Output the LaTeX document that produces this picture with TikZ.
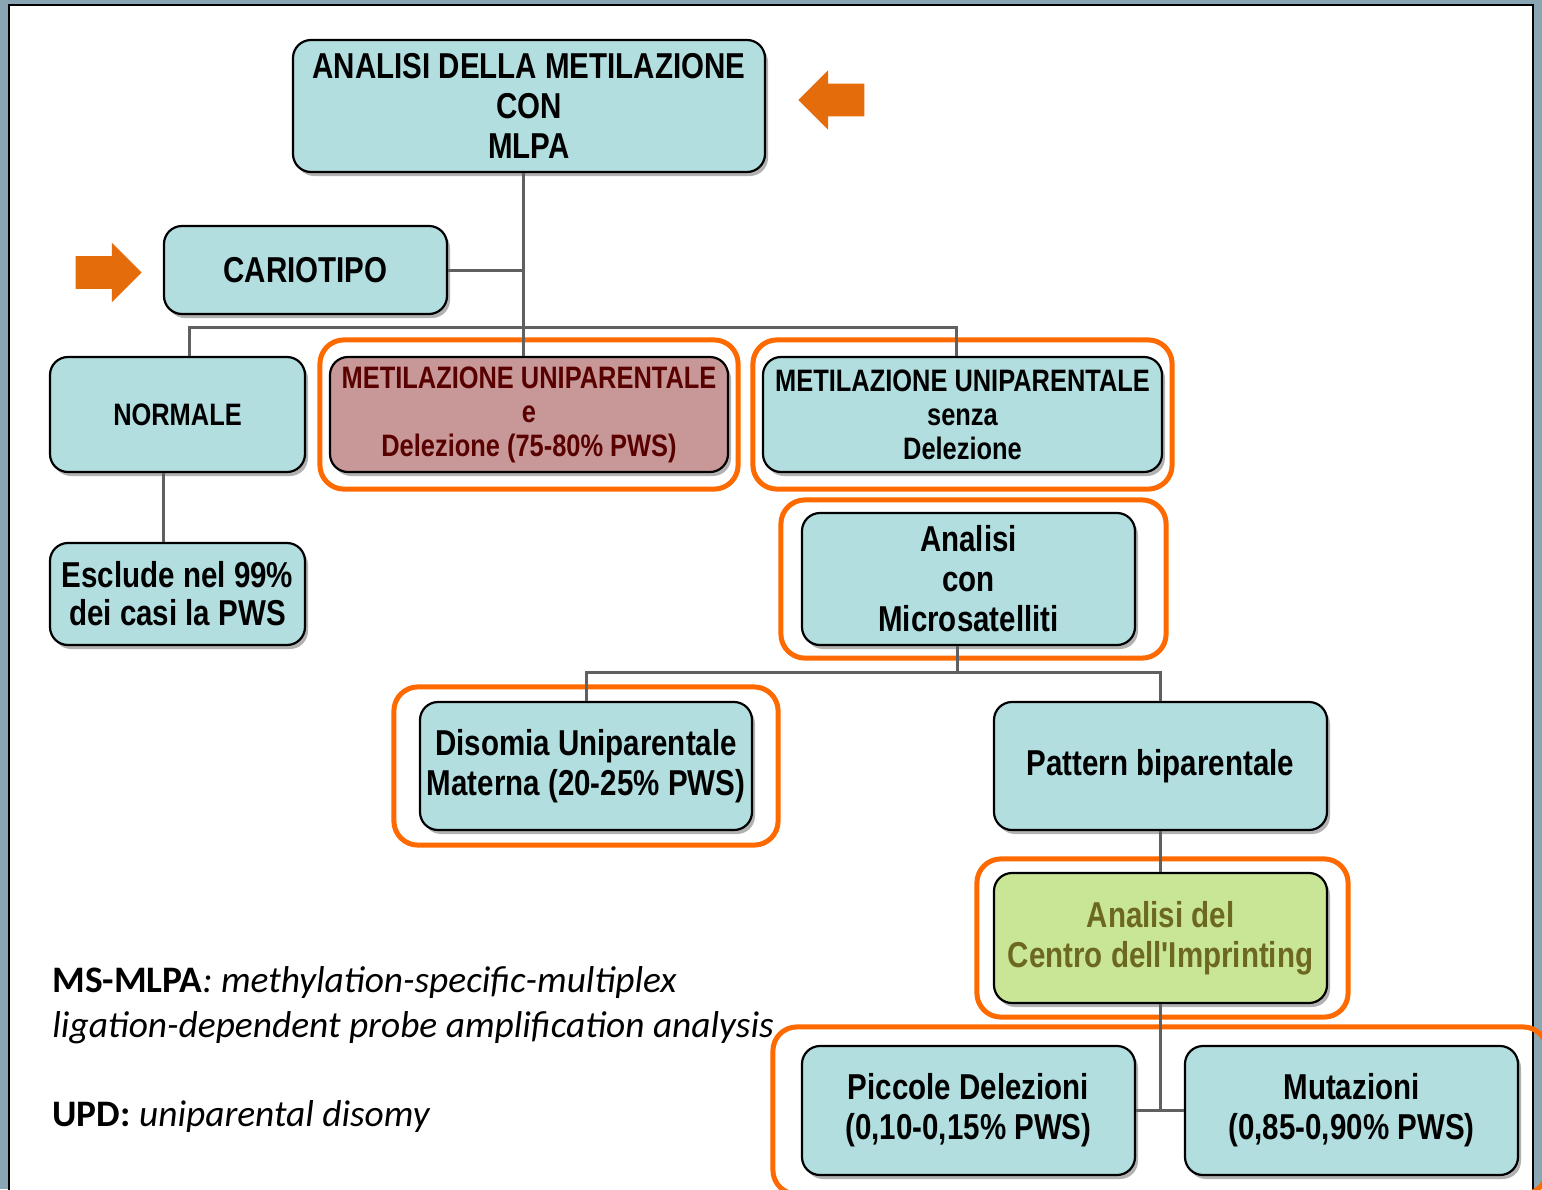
\documentclass[tikz,border=0pt]{standalone}
\usepackage{fontspec}
\usetikzlibrary{positioning, shapes.arrows, shadows, fit, calc}
\newfontfamily\boxfont[FakeStretch=0.82]{Liberation Sans Bold}
\newfontfamily\legfont{Carlito}
\definecolor{boxteal}{HTML}{B2DEE0}
\definecolor{boxrose}{HTML}{C89898}
\definecolor{boxlime}{HTML}{C9E697}
\definecolor{hlorange}{HTML}{FF6A00}
\definecolor{markorange}{HTML}{E46C0A}
\definecolor{framegray}{HTML}{8AA5B4}
\definecolor{linkgray}{HTML}{606060}

\begin{document}
\begin{tikzpicture}[x=0.5pt, y=-0.5pt,
    box/.style={draw=black, line width=1.1pt, rounded corners=9pt, fill=boxteal, align=center, inner sep=0pt,
      drop shadow={shadow xshift=1.5pt, shadow yshift=-2pt, fill=black!30, opacity=1}},
    bigtxt/.style={font=\boxfont\fontsize{18}{20}\selectfont},
    smalltxt/.style={font=\boxfont\fontsize{15.5}{17}\selectfont},
    link/.style={draw=linkgray, line width=1.5pt},
    hl/.style={draw=hlorange, line width=2.5pt, rounded corners=12pt, inner sep=0pt},
    marker/.style={single arrow, fill=markorange, inner xsep=0pt, inner ysep=8pt, minimum height=33pt,
      single arrow head extend=6.75pt, single arrow tip angle=90},
    legtxt/.style={anchor=west, inner sep=0pt, font=\legfont\fontsize{18.7}{22}\selectfont}]
    \useasboundingbox (0,0) rectangle (1542,1189);
    \clip (0,0) rectangle (1542,1189);
    \fill[framegray] (0,0) rectangle (1542,1189);
    \filldraw[fill=white, draw=black, line width=1pt] (9,5) rectangle (1533,1220);

    \node[box, bigtxt, minimum width=236pt, minimum height=66pt] (top) at (529,106) {ANALISI DELLA METILAZIONE\\CON\\MLPA};
    \node[box, bigtxt, minimum width=141.5pt, minimum height=44pt] (cario) at (305.5,270) {CARIOTIPO};
    \node[box, smalltxt, minimum width=127.5pt, minimum height=57.5pt] (normale) at (177.5,414.5) {NORMALE};
    \node[box, smalltxt, fill=boxrose, text=red!35!black, minimum width=199pt, minimum height=57.5pt] (metdel) at (529,414.5) {METILAZIONE UNIPARENTALE\\e\\Delezione (75-80\% PWS)};
    \node[box, smalltxt, minimum width=199.5pt, minimum height=57.5pt] (metsenza) at (962.5,414.5) {METILAZIONE UNIPARENTALE\\senza\\Delezione};
    \node[box, font=\boxfont\fontsize{18}{19}\selectfont, minimum width=127.5pt, minimum height=51pt] (esclude) at (177.5,594) {Esclude nel 99\%\\dei casi la PWS};
    \node[box, bigtxt, minimum width=166.5pt, minimum height=66pt] (micro) at (968.5,579) {Analisi\\con\\Microsatelliti};
    \node[box, bigtxt, minimum width=166pt, minimum height=64pt] (disomia) at (586,766) {Disomia Uniparentale\\Materna (20-25\% PWS)};
    \node[box, bigtxt, minimum width=166.5pt, minimum height=64pt] (pattern) at (1160.5,766) {Pattern biparentale};
    \node[box, bigtxt, fill=boxlime, text=olive!70!black, minimum width=166.5pt, minimum height=65pt] (centro) at (1160.5,938) {Analisi del\\Centro dell'Imprinting};
    \node[box, bigtxt, minimum width=166.5pt, minimum height=64.5pt] (piccole) at (968.5,1110.5) {Piccole Delezioni\\(0,10-0,15\% PWS)};
    \node[box, bigtxt, minimum width=166.5pt, minimum height=64.5pt] (mutaz) at (1351.5,1110.5) {Mutazioni\\(0,85-0,90\% PWS)};

    \node[hl, fit=(metdel), inner xsep=4.5pt, inner ysep=8pt] (hlA) {};
    \node[hl, fit=(metsenza), inner xsep=4.5pt, inner ysep=8pt] (hlB) {};
    \node[hl, fit=(micro), inner xsep=12.5pt, inner ysep=6pt, xshift=2.5pt] (hlC) {};
    \node[hl, fit=(disomia), inner xsep=12.5pt, inner ysep=7pt] (hlD) {};
    \node[hl, fit=(centro), inner xsep=9pt, inner ysep=6.5pt, xshift=1pt] (hlE) {};
    \node[hl, fit=(piccole)(mutaz), inner xsep=14pt, inner ysep=9pt] (hlF) {};

    \coordinate (busA) at (523,327);
    \coordinate (busB) at (957,672);
    \draw[link] ([xshift=-3pt]top.south) -- ([xshift=-3pt]metdel.north);
    \draw[link] (cario.east) -- (cario.east -| busA);
    \draw[link] ([xshift=6pt]normale.north) |- (busA) -| ([xshift=-3pt]metsenza.north);
    \draw[link] ([xshift=-7pt]normale.south) -- ([xshift=-7pt]esclude.north);
    \draw[link] (micro.south -| busB) -- (busB);
    \draw[link] (disomia.north) |- (busB) -| (pattern.north);
    \draw[link] (pattern.south) -- (centro.north);
    \draw[link] (centro.south) -- (centro.south |- piccole.east);
    \draw[link] (piccole.east) -- (mutaz.west);

    \node[marker, shape border rotate=180] (markA) at (839.5,100) {};
    \node[marker] (markB) at (100.5,272.5) {};

    \node[legtxt] (legA) at (52,983) {\textbf{MS-MLPA}\textit{: methylation-specific-multiplex}};
    \node[legtxt] (legB) at (52,1028) {\textit{ligation-dependent probe amplification analysis}};
    \node[legtxt] (legC) at (52,1117) {\textbf{UPD:} \textit{uniparental disomy}};
\end{tikzpicture}
\end{document}
